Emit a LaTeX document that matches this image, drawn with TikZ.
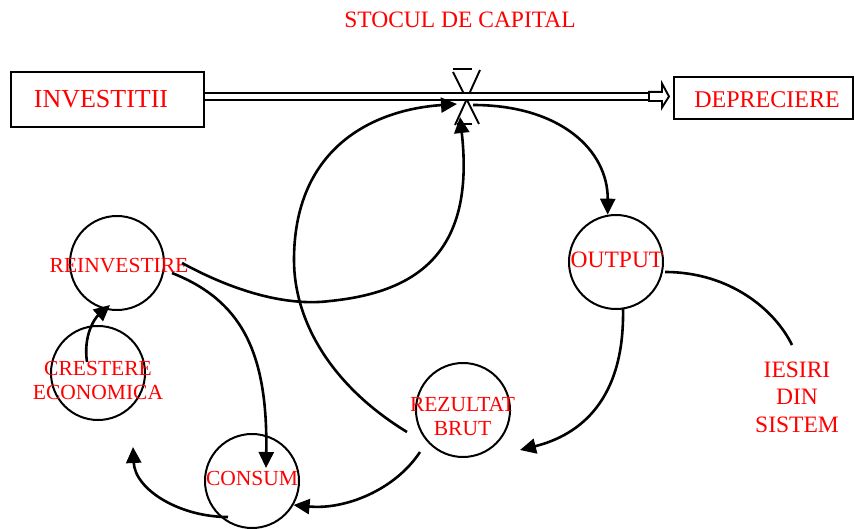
\documentclass[tikz,border=0pt]{standalone}
\usepackage{fontspec}
\setmainfont{Liberation Serif}
\usetikzlibrary{arrows.meta}
\begin{document}
\begin{tikzpicture}[x=1pt,y=-1pt,
  conn/.style={line width=2.6pt,-{Triangle[length=16pt,width=15pt]}},
  plain/.style={line width=2.6pt},
  circ/.style={circle,draw,line width=2pt,minimum size=94pt,inner sep=0pt},
  box/.style={rectangle,draw,line width=2.2pt,inner sep=0pt},
  lab/.style={text=red,inner sep=0pt,align=center,font=\fontsize{21.5}{24}\selectfont},
  labbig/.style={lab,font=\fontsize{23.5}{27.5}\selectfont},
  valve/.style={line width=1.9pt}]
\useasboundingbox (0,0) rectangle (855,529);

% boxes and title
\node[box,minimum width=193pt,minimum height=55pt] (inv) at (107.5,99.5) {};
\node[lab,font=\fontsize{26}{28}\selectfont] (invT) at (101,99) {INVESTITII};
\node[box,minimum width=179pt,minimum height=42pt] (dep) at (763.5,98) {};
\node[lab,font=\fontsize{24}{28}\selectfont] (depT) at (767,100) {DEPRECIERE};
\node[labbig] (stoc) at (460,20) {STOCUL DE CAPITAL};

% circles
\node[circ] (rein) at (117,263) {};
\node[lab] (reinT) at (119,266) {REINVESTIRE};
\node[circ] (cre) at (98,373) {};
\node[lab] (creT) at (98,380.5) {CRESTERE\\ECONOMICA};
\node[circ] (out) at (616,262) {};
\node[labbig] (outT) at (617,260) {OUTPUT};
\node[circ] (rez) at (463,410) {};
\node[lab] (rezT) at (462.5,417) {REZULTAT\\BRUT};
\node[circ] (con) at (252,481) {};
\node[lab] (conT) at (252,478.5) {CONSUM};
\node[labbig] (ies) at (797,397) {IESIRI\\DIN\\SISTEM};

% valve
\coordinate (val) at (466,97);
\begin{scope}[shift={(val)}]
  \draw[valve] (-13,-25) -- (13,27);
  \draw[valve] (14,-27) -- (-11,28);
  \draw[valve] (-13,-28) -- (6,-28);
  \draw[valve] (-9,27) -- (6,27);
\end{scope}

% flow pipe
\coordinate (pipeEnd) at (649,96.5);
\draw[double,double distance=4.4pt,line width=2.2pt] (inv.east |- pipeEnd) -- (pipeEnd);
\begin{scope}[shift={(pipeEnd)}]
  \draw[line width=1.9pt,fill=white,line join=miter]
    (0,-4.6) -- (13,-4.6) -- (13,-13) -- (20,0) -- (13,11) -- (13,4.5) -- (0,4.5) -- cycle;
\end{scope}

% connector end points
\coordinate (valOut) at (473,105);
\coordinate (valIn1) at (457,104);
\coordinate (valIn2) at (460,117);
\coordinate (outS) at (623,308);
\coordinate (outE) at (665,272);
\coordinate (iesE) at (792,345);
\coordinate (rezIn) at (520,450);
\coordinate (rezS) at (420,452);
\coordinate (rezS2) at (407,432);
\coordinate (conS) at (228,517);
\coordinate (conIn) at (266,468);
\coordinate (creIn) at (133,447);
\coordinate (creS) at (87,362);
\coordinate (reinIn) at (110,305);
\coordinate (reinS1) at (182,263);
\coordinate (reinS2) at (172,273);

% connectors
\draw[conn] (valOut) .. controls (560,105) and (608,150) .. (out.100);
\draw[conn] (outS) .. controls (625,400) and (580,435) .. (rezIn);
\draw[conn] (rezS) .. controls (395,490) and (345,510) .. (con.-30);
\draw[conn] (conS) .. controls (180,517) and (135,490) .. (creIn);
\draw[conn] (creS) .. controls (83,335) and (95,318) .. (reinIn);
\draw[conn] (reinS2) .. controls (240,300) and (268,350) .. (conIn);
\draw[conn] (reinS1) .. controls (250,300) and (300,305) .. (330,301)
   .. controls (420,292) and (475,250) .. (valIn2);
\draw[conn] (rezS2) .. controls (330,385) and (294,320) .. (294,260)
   .. controls (294,150) and (370,110) .. (valIn1);
\draw[plain] (outE) .. controls (730,272) and (775,310) .. (iesE);
\end{tikzpicture}
\end{document}
